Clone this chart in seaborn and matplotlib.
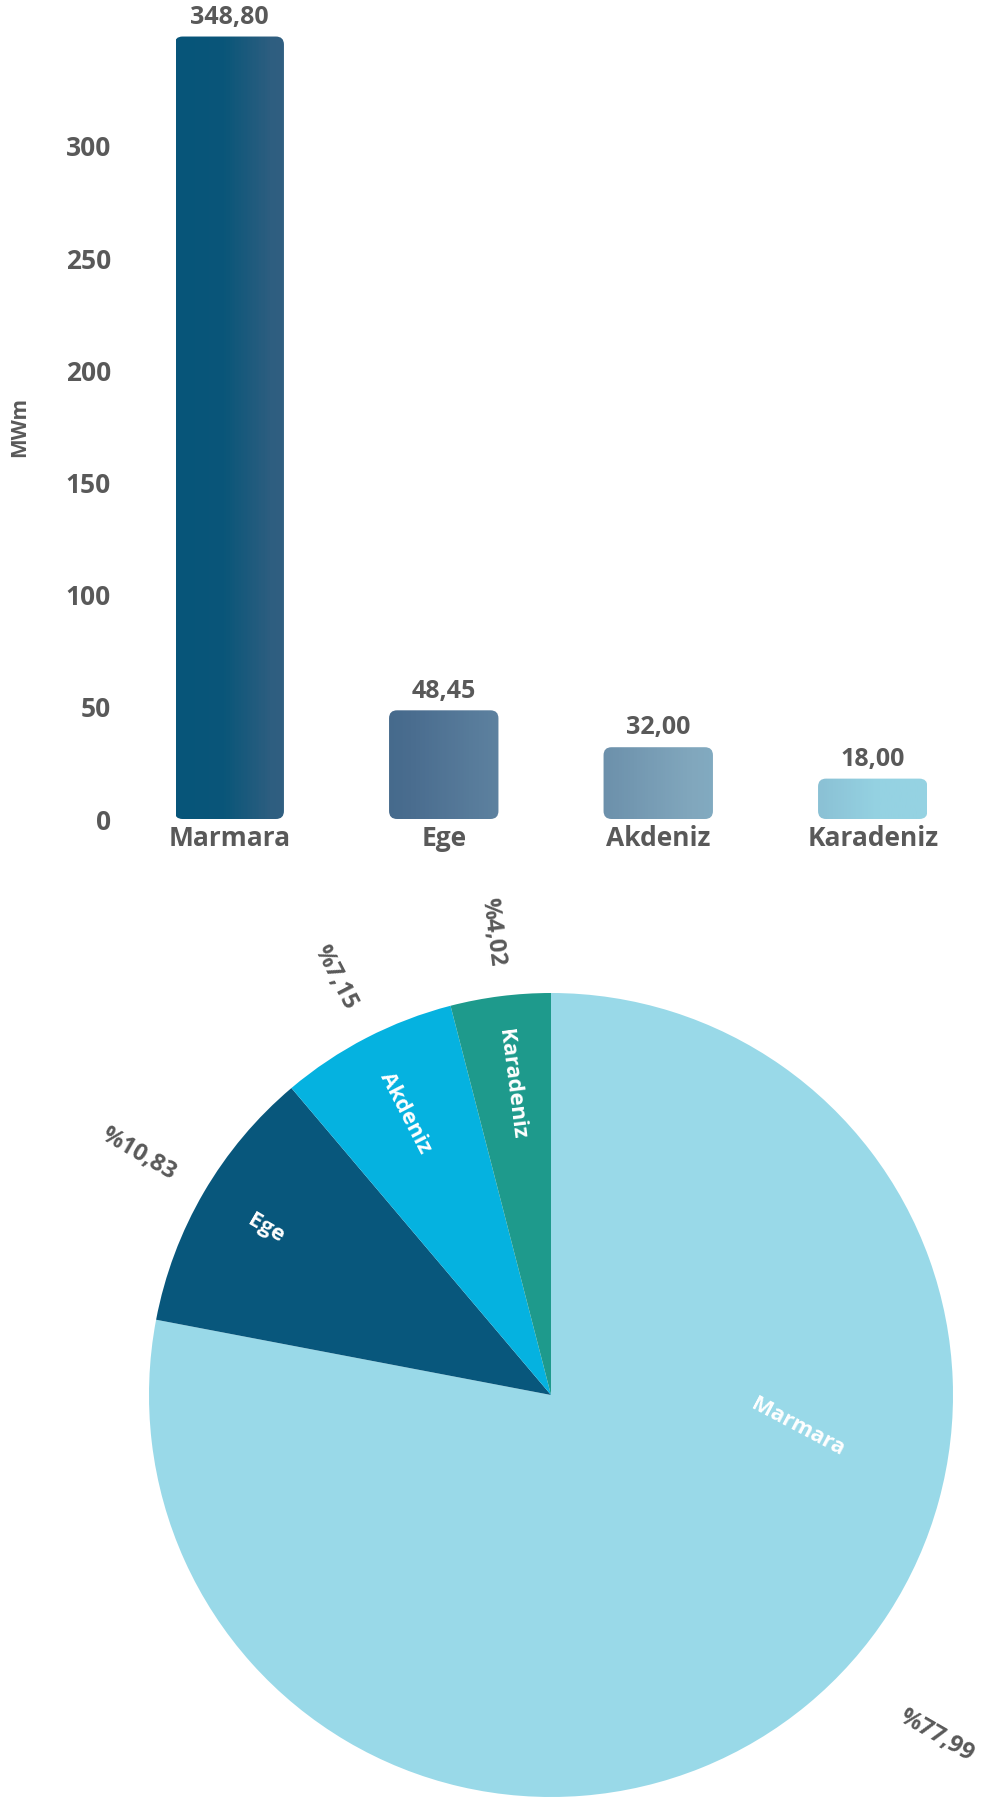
import numpy as np
import pandas as pd
import seaborn as sns
import matplotlib.pyplot as plt
from matplotlib.patches import FancyBboxPatch
from matplotlib.colors import LinearSegmentedColormap

# veriler
regions = ["Marmara", "Ege", "Akdeniz", "Karadeniz"]
capacity = [348.80, 48.45, 32.00, 18.00]
share = [77.99, 10.83, 7.15, 4.02]
yticks = [0, 50, 100, 150, 200, 250, 300]

pie_colors = ["#99D9E8", "#08577C", "#05B2E0", "#1E9A8C"]
grey = "#595959"

sns.set_theme(style="white")
plt.rcParams['font.family'] = ['Open Sans', 'DejaVu Sans']

fig = plt.figure(figsize=(9.86, 17.98), dpi=100)

# --- sütun grafiği ---
ax = fig.add_axes([122 / 986, 979 / 1798, 858 / 986, 807.6 / 1798])
df = pd.DataFrame({"bolge": regions, "mwm": capacity})
sns.barplot(data=df, x="bolge", y="mwm", width=0.51, color="#08577C", ax=ax)
ax.set_xlim(-0.5, 3.5)
ax.set_ylim(0, 360)

# yatay renk geçişi, köşeleri yuvarlatılmış sütunlar
grad = LinearSegmentedColormap.from_list("bar_grad", [
    (0.00, "#07557A"), (0.0625, "#0A5679"), (0.125, "#2E5E80"),
    (0.3125, "#4A6D8F"), (0.4375, "#5F83A1"),
    (0.5625, "#6B8FAA"), (0.6875, "#81A7BD"),
    (0.8125, "#85B7CD"), (0.9375, "#95D2E2"), (1.0, "#95D2E2")])
xs = np.linspace(0, 1, 600).reshape(1, -1)
px_x = 858 / 4.0
px_y = 807.6 / 360
rad = 8 / px_x
for p in list(ax.patches):
    x, w, h = p.get_x(), p.get_width(), p.get_height()
    p.set_visible(False)
    box = FancyBboxPatch((x, 0), w, h,
                         boxstyle=f"round,pad=0,rounding_size={rad}",
                         mutation_aspect=(8 / px_y) / rad,
                         facecolor="none", edgecolor="none")
    ax.add_patch(box)
    im = ax.imshow(xs, cmap=grad, aspect="auto", extent=(-0.25, 3.25, 0, 360),
                   zorder=2)
    im.set_clip_path(box)
    ax.text(x + w / 2, h + 3, f"{h:.2f}".replace(".", ","), ha="center",
            va="bottom", fontsize=18, fontweight="bold", color=grey)

ax.set_yticks(yticks)
ax.set_xlabel("")
ax.set_ylabel("MWm", fontsize=15, fontweight="bold", color=grey)
ax.yaxis.set_label_coords(-0.107, 0.485)
ax.tick_params(axis="y", labelsize=19, colors=grey, length=0, pad=8)
ax.tick_params(axis="x", labelsize=19, colors=grey, length=0, pad=4)
for lab in ax.get_xticklabels() + ax.get_yticklabels():
    lab.set_fontweight("bold")
sns.despine(ax=ax, left=True, bottom=True)

# --- pasta grafiği ---
ax2 = fig.add_axes([149 / 986, 1 / 1798, 804 / 986, 804 / 1798])
wedges, _ = ax2.pie(share, colors=pie_colors, startangle=90, counterclock=False,
                    wedgeprops=dict(linewidth=0))
ax2.set_xlim(-1, 1)
ax2.set_ylim(-1, 1)

# etiket ayarları: iç etiket (açı, yarıçap, dönüş), dış etiket (açı, yarıçap, dönüş)
inner = {"Marmara": (-7.5, 0.62, -28), "Ege": (None, 0.82, None),
         "Akdeniz": (None, 0.79, None), "Karadeniz": (None, 0.78, None)}
outer = {"Marmara": (-41.5, 1.28, -30), "Ege": (None, 1.19, None),
         "Akdeniz": (None, 1.17, None), "Karadeniz": (None, 1.16, None)}

for wdg, name, pct in zip(wedges, regions, share):
    mid = (wdg.theta1 + wdg.theta2) / 2
    a, r, rot = inner[name]
    a = mid if a is None else a
    rot = (a - 180) if rot is None else rot
    t = np.deg2rad(a)
    ax2.text(r * np.cos(t), r * np.sin(t), name, rotation=rot, ha="center",
             va="center", rotation_mode="anchor", fontsize=16,
             fontweight="bold", color="white")
    a, r, rot = outer[name]
    a = mid if a is None else a
    rot = (a - 180) if rot is None else rot
    t = np.deg2rad(a)
    ax2.text(r * np.cos(t), r * np.sin(t), f"%{pct:.2f}".replace(".", ","),
             rotation=rot, ha="center", va="center", rotation_mode="anchor",
             fontsize=17, fontweight="bold", color=grey)

fig.savefig("out.png", dpi=100)
